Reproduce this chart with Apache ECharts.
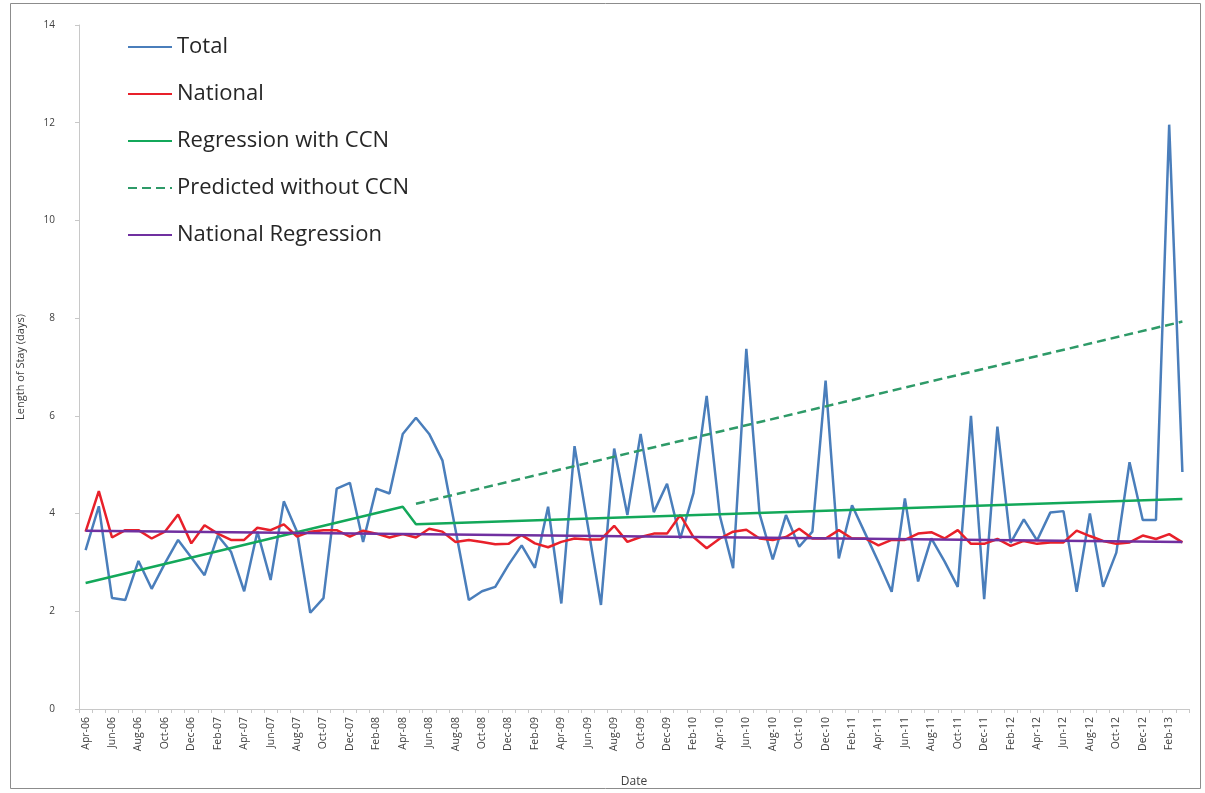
<!DOCTYPE html>
<html>
<head>
<meta charset="utf-8">
<script src="https://cdn.jsdelivr.net/npm/echarts@6/dist/echarts.min.js"></script>
<style>
html,body{margin:0;padding:0;background:#fff;}
#chart{width:1205px;height:793px;}
</style>
</head>
<body>
<div id="chart"></div>
<script>
const categories = [
 'Apr-06','May-06','Jun-06','Jul-06','Aug-06','Sep-06','Oct-06','Nov-06','Dec-06',
 'Jan-07','Feb-07','Mar-07','Apr-07','May-07','Jun-07','Jul-07','Aug-07','Sep-07','Oct-07','Nov-07','Dec-07',
 'Jan-08','Feb-08','Mar-08','Apr-08','May-08','Jun-08','Jul-08','Aug-08','Sep-08','Oct-08','Nov-08','Dec-08',
 'Jan-09','Feb-09','Mar-09','Apr-09','May-09','Jun-09','Jul-09','Aug-09','Sep-09','Oct-09','Nov-09','Dec-09',
 'Jan-10','Feb-10','Mar-10','Apr-10','May-10','Jun-10','Jul-10','Aug-10','Sep-10','Oct-10','Nov-10','Dec-10',
 'Jan-11','Feb-11','Mar-11','Apr-11','May-11','Jun-11','Jul-11','Aug-11','Sep-11','Oct-11','Nov-11','Dec-11',
 'Jan-12','Feb-12','Mar-12','Apr-12','May-12','Jun-12','Jul-12','Aug-12','Sep-12','Oct-12','Nov-12','Dec-12',
 'Jan-13','Feb-13','Mar-13'
];

const total = [
 3.25,4.15,2.27,2.23,3.03,2.46,2.98,3.46,3.10,
 2.74,3.55,3.22,2.41,3.63,2.64,4.25,3.63,1.97,2.27,4.51,4.63,
 3.42,4.51,4.41,5.63,5.96,5.63,5.09,3.66,2.23,2.41,2.50,2.95,
 3.35,2.89,4.14,2.16,5.38,3.76,2.13,5.33,3.97,5.63,4.03,4.61,
 3.49,4.42,6.41,3.95,2.88,7.37,4.00,3.06,3.97,3.32,3.63,6.72,
 3.08,4.17,3.59,3.01,2.40,4.31,2.61,3.49,3.02,2.50,6.00,2.25,
 5.78,3.40,3.88,3.45,4.02,4.05,2.40,4.00,2.50,3.20,5.05,3.87,
 3.87,11.96,4.85
];

const national = [
 3.63,4.46,3.51,3.66,3.66,3.49,3.63,3.98,3.39,
 3.76,3.59,3.46,3.46,3.71,3.66,3.78,3.53,3.63,3.66,3.66,3.53,
 3.65,3.59,3.51,3.58,3.51,3.69,3.63,3.42,3.46,3.42,3.37,3.38,
 3.56,3.39,3.31,3.42,3.49,3.47,3.47,3.75,3.42,3.52,3.59,3.59,
 3.97,3.52,3.29,3.49,3.63,3.67,3.49,3.46,3.52,3.69,3.49,3.49,
 3.66,3.49,3.49,3.35,3.46,3.46,3.59,3.62,3.49,3.66,3.38,3.38,
 3.48,3.34,3.44,3.38,3.41,3.41,3.65,3.54,3.44,3.38,3.41,3.55,
 3.48,3.58,3.41
];

// straight regression lines: only their end/break points are given
const regressionWithCCN = [['Apr-06',2.58],['Apr-08',4.14],['May-08',3.78],['Mar-13',4.30]];
const predictedWithoutCCN = [['May-08',4.20],['Mar-13',7.93]];
const nationalRegression = [['Apr-06',3.65],['Mar-13',3.42]];

const yTicks = {min:0, max:14, interval:2};

const chart = echarts.init(document.getElementById('chart'));
const font = 'Open Sans, Noto Sans, sans-serif';
chart.setOption({
  animation:false,
  backgroundColor:'#fff',
  textStyle:{fontFamily:font},
  graphic:[{type:'rect',shape:{x:10.5,y:3.5,width:1190,height:785},style:{fill:'none',stroke:'#8c8c8c',lineWidth:1},silent:true,z:-1}],
  grid:{left:79,right:16,top:25,bottom:83,containLabel:false},
  legend:{
    orient:'vertical',left:122,top:30,itemWidth:44,itemHeight:14,itemGap:23,
    itemStyle:{opacity:0},
    textStyle:{fontSize:22,lineHeight:24,color:'#262626',fontFamily:font},
    data:['Total','National','Regression with CCN','Predicted without CCN','National Regression']
  },
  xAxis:{
    type:'category',data:categories,boundaryGap:true,
    name:'Date',nameLocation:'middle',nameGap:67,
    nameTextStyle:{fontSize:12,color:'#404040'},
    axisLine:{lineStyle:{color:'#c8c8c8',width:1}},
    axisTick:{show:true,interval:0,length:4,lineStyle:{color:'#c8c8c8'}},
    axisLabel:{interval:1,rotate:90,fontSize:10.5,color:'#404040',margin:8},
    splitLine:{show:false}
  },
  yAxis:{
    type:'value',min:yTicks.min,max:yTicks.max,interval:yTicks.interval,
    name:'Length of Stay (days)',nameLocation:'middle',nameGap:53,
    nameTextStyle:{fontSize:11,color:'#404040'},
    axisLine:{show:true,lineStyle:{color:'#c8c8c8',width:1}},
    axisTick:{show:true,length:4,lineStyle:{color:'#c8c8c8'}},
    axisLabel:{fontSize:10,color:'#404040',margin:24},
    splitLine:{show:false}
  },
  series:[
    {name:'Total',type:'line',data:total,symbol:'none',lineStyle:{color:'#4a7ebb',width:2.5},itemStyle:{color:'#4a7ebb'}},
    {name:'National',type:'line',data:national,symbol:'none',lineStyle:{color:'#e8202a',width:2.5},itemStyle:{color:'#e8202a'}},
    {name:'Regression with CCN',type:'line',data:regressionWithCCN,symbol:'none',lineStyle:{color:'#13a85a',width:2.5},itemStyle:{color:'#13a85a'}},
    {name:'Predicted without CCN',type:'line',data:predictedWithoutCCN,symbol:'none',lineStyle:{color:'#2e9a68',width:2.5,type:[9,5]},itemStyle:{color:'#2e9a68'}},
    {name:'National Regression',type:'line',data:nationalRegression,symbol:'none',lineStyle:{color:'#7030a0',width:2.5},itemStyle:{color:'#7030a0'}}
  ]
});
</script>
</body>
</html>
